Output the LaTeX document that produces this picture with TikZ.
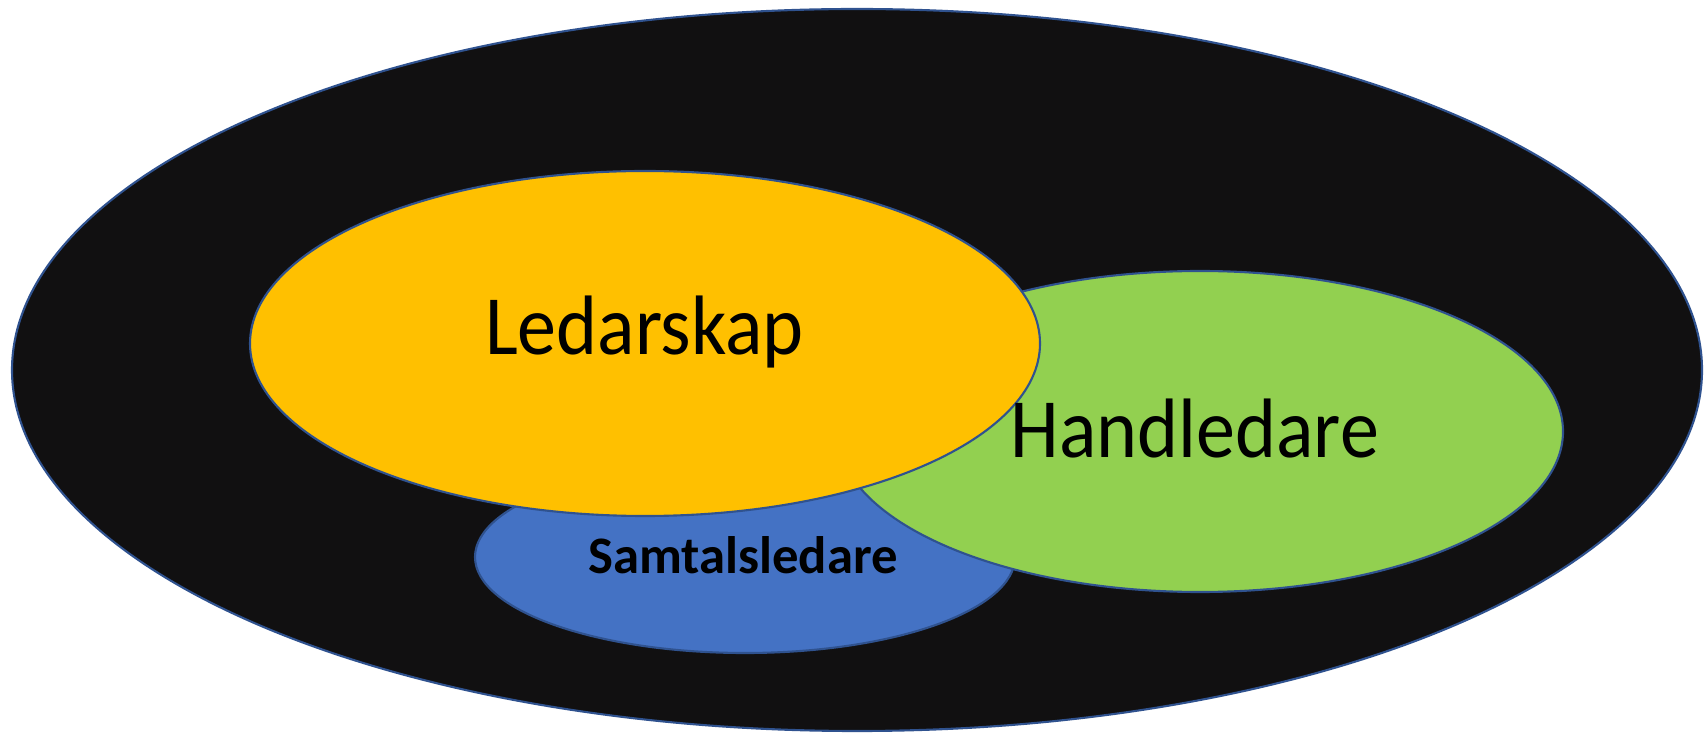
\documentclass[tikz,border=0pt]{standalone}
\usepackage{fontspec}
\setmainfont{Carlito}
\newfontfamily\narrowfont[FakeStretch=0.925]{Carlito}
\usetikzlibrary{shapes.geometric}
\definecolor{rimblue}{HTML}{2F528F}
\definecolor{darkfill}{HTML}{111011}
\definecolor{ledyellow}{HTML}{FFC000}
\definecolor{handgreen}{HTML}{92D050}
\definecolor{samtblue}{HTML}{4472C4}
\tikzstyle{ring} = [ellipse, draw=rimblue, line width=0.6pt, inner sep=0pt]
\tikzstyle{biglabel} = [anchor=base, inner sep=0pt, font=\narrowfont\fontsize{24}{28}\selectfont]
\tikzstyle{smalllabel} = [anchor=base, inner sep=0pt, font=\bfseries\fontsize{15}{18}\selectfont]

\begin{document}
\begin{tikzpicture}
	\useasboundingbox (0,0) rectangle (17.07,-7.34);
	
	\node (world) [ring, fill=darkfill, minimum width=16.90cm, minimum height=7.22cm] at (8.57,-3.70) {};
	\node (samt) [ring, fill=samtblue, minimum width=5.40cm, minimum height=1.92cm] at (7.45,-5.57) {};
	\node (hand) [ring, fill=handgreen, minimum width=7.26cm, minimum height=3.21cm] at (12.00,-4.315) {};
	\node (led) [ring, fill=ledyellow, minimum width=7.90cm, minimum height=3.45cm] at (6.45,-3.435) {};
	
	\node (ledtxt) [biglabel] at (6.445,-3.55) {Ledarskap};
	\node (handtxt) [biglabel] at (11.95,-4.58) {Handledare};
	\node (samttxt) [smalllabel] at (7.43,-5.73) {Samtalsledare};
\end{tikzpicture}
\end{document}
